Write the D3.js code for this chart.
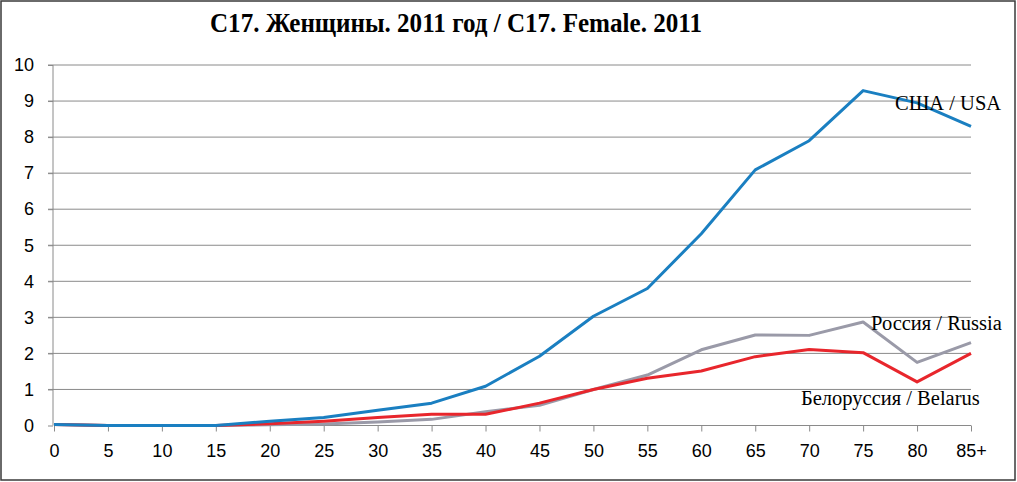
<!DOCTYPE html>
<html>
<head>
<meta charset="utf-8">
<script src="https://cdn.jsdelivr.net/npm/d3@7"></script>
<style>
  html, body { margin: 0; padding: 0; background: #fff; }
  svg { display: block; }
</style>
</head>
<body>
<svg id="chart" width="1017" height="482"></svg>
<script>
const categories = ["0","5","10","15","20","25","30","35","40","45","50","55","60","65","70","75","80","85+"];
const usa     = [0.03, 0, 0, 0, 0.12, 0.22, 0.42, 0.62, 1.09, 1.92, 3.03, 3.8, 5.32, 7.09, 7.9, 9.29, 8.95, 8.3];
const russia  = [0.03, 0, 0, 0, 0.02, 0.04, 0.1, 0.17, 0.38, 0.56, 1.0, 1.4, 2.1, 2.51, 2.5, 2.87, 1.75, 2.3];
const belarus = [0.03, 0, 0, 0, 0.05, 0.12, 0.22, 0.31, 0.31, 0.62, 1.0, 1.31, 1.51, 1.91, 2.11, 2.02, 1.21, 2.0];
const yTicks = [0,1,2,3,4,5,6,7,8,9,10];
const title = "C17. Женщины. 2011 год / C17. Female. 2011";
const seriesNames = ["США / USA", "Россия / Russia", "Белоруссия / Belarus"];
const colors = ["#1a7fc1", "#9a9aa8", "#e8262c"];

const svg = d3.select("#chart");
const W = 1017, H = 482;

// border
svg.append("rect").attr("x", 1).attr("y", 1).attr("width", W - 3).attr("height", H - 3)
  .attr("fill", "#fff").attr("stroke", "#3a3a3a").attr("stroke-width", 1.5);

const x = d3.scalePoint().domain(categories).range([54, 971]).padding(0);
const y = d3.scaleLinear().domain([0, 10]).range([425.5, 65]);

// gridlines
svg.append("g").selectAll("line").data(yTicks.filter(d => d > 0)).join("line")
  .attr("x1", 48).attr("x2", 971)
  .attr("y1", d => y(d)).attr("y2", d => y(d))
  .attr("stroke", "#8a8a8a").attr("stroke-width", 1);

// y axis
const yAxis = d3.axisLeft(y).tickValues(yTicks).tickSize(5).tickPadding(14).tickFormat(d3.format("d"));
const gy = svg.append("g").attr("transform", "translate(53,0)").call(yAxis);
gy.select(".domain").attr("stroke", "#8a8a8a").attr("d", `M0,${y(10)}V${y(0)}`);
gy.selectAll(".tick line").attr("stroke", "#8a8a8a");
gy.selectAll(".tick text").attr("font-family", "'Liberation Sans', Arial, sans-serif")
  .attr("font-size", 18).attr("fill", "#000");

// x axis
const xAxis = d3.axisBottom(x).tickSize(6).tickPadding(13);
const gx = svg.append("g").attr("transform", `translate(0,${y(0)})`).call(xAxis);
gx.select(".domain").attr("stroke", "#8a8a8a").attr("d", `M${x(categories[0])},0H${x(categories[categories.length-1])}`);
gx.selectAll(".tick line").attr("stroke", "#8a8a8a");
gx.selectAll(".tick text").attr("font-family", "'Liberation Sans', Arial, sans-serif")
  .attr("font-size", 18).attr("fill", "#000");

// lines
const line = d3.line().x((d, i) => x(categories[i])).y(d => y(d));
const series = [usa, russia, belarus];
// draw order: russia, belarus, usa
[1, 2, 0].forEach(k => {
  svg.append("path").datum(series[k])
    .attr("d", line).attr("fill", "none")
    .attr("stroke", colors[k]).attr("stroke-width", 3)
    .attr("stroke-linejoin", "round");
});

// labels
const labelPos = [[895, 110], [871, 330], [801, 405]];
seriesNames.forEach((n, k) => {
  svg.append("text").attr("x", labelPos[k][0]).attr("y", labelPos[k][1])
    .attr("font-family", "'Liberation Serif', 'Times New Roman', serif")
    .attr("font-size", 20.5).attr("fill", "#000").text(n);
});

// title
svg.append("text").attr("x", 210).attr("y", 32)
  .attr("textLength", 492).attr("lengthAdjust", "spacingAndGlyphs")
  .attr("font-family", "'Liberation Serif', 'Times New Roman', serif")
  .attr("font-weight", "bold").attr("font-size", 28).attr("fill", "#000").text(title);
</script>
</body>
</html>
